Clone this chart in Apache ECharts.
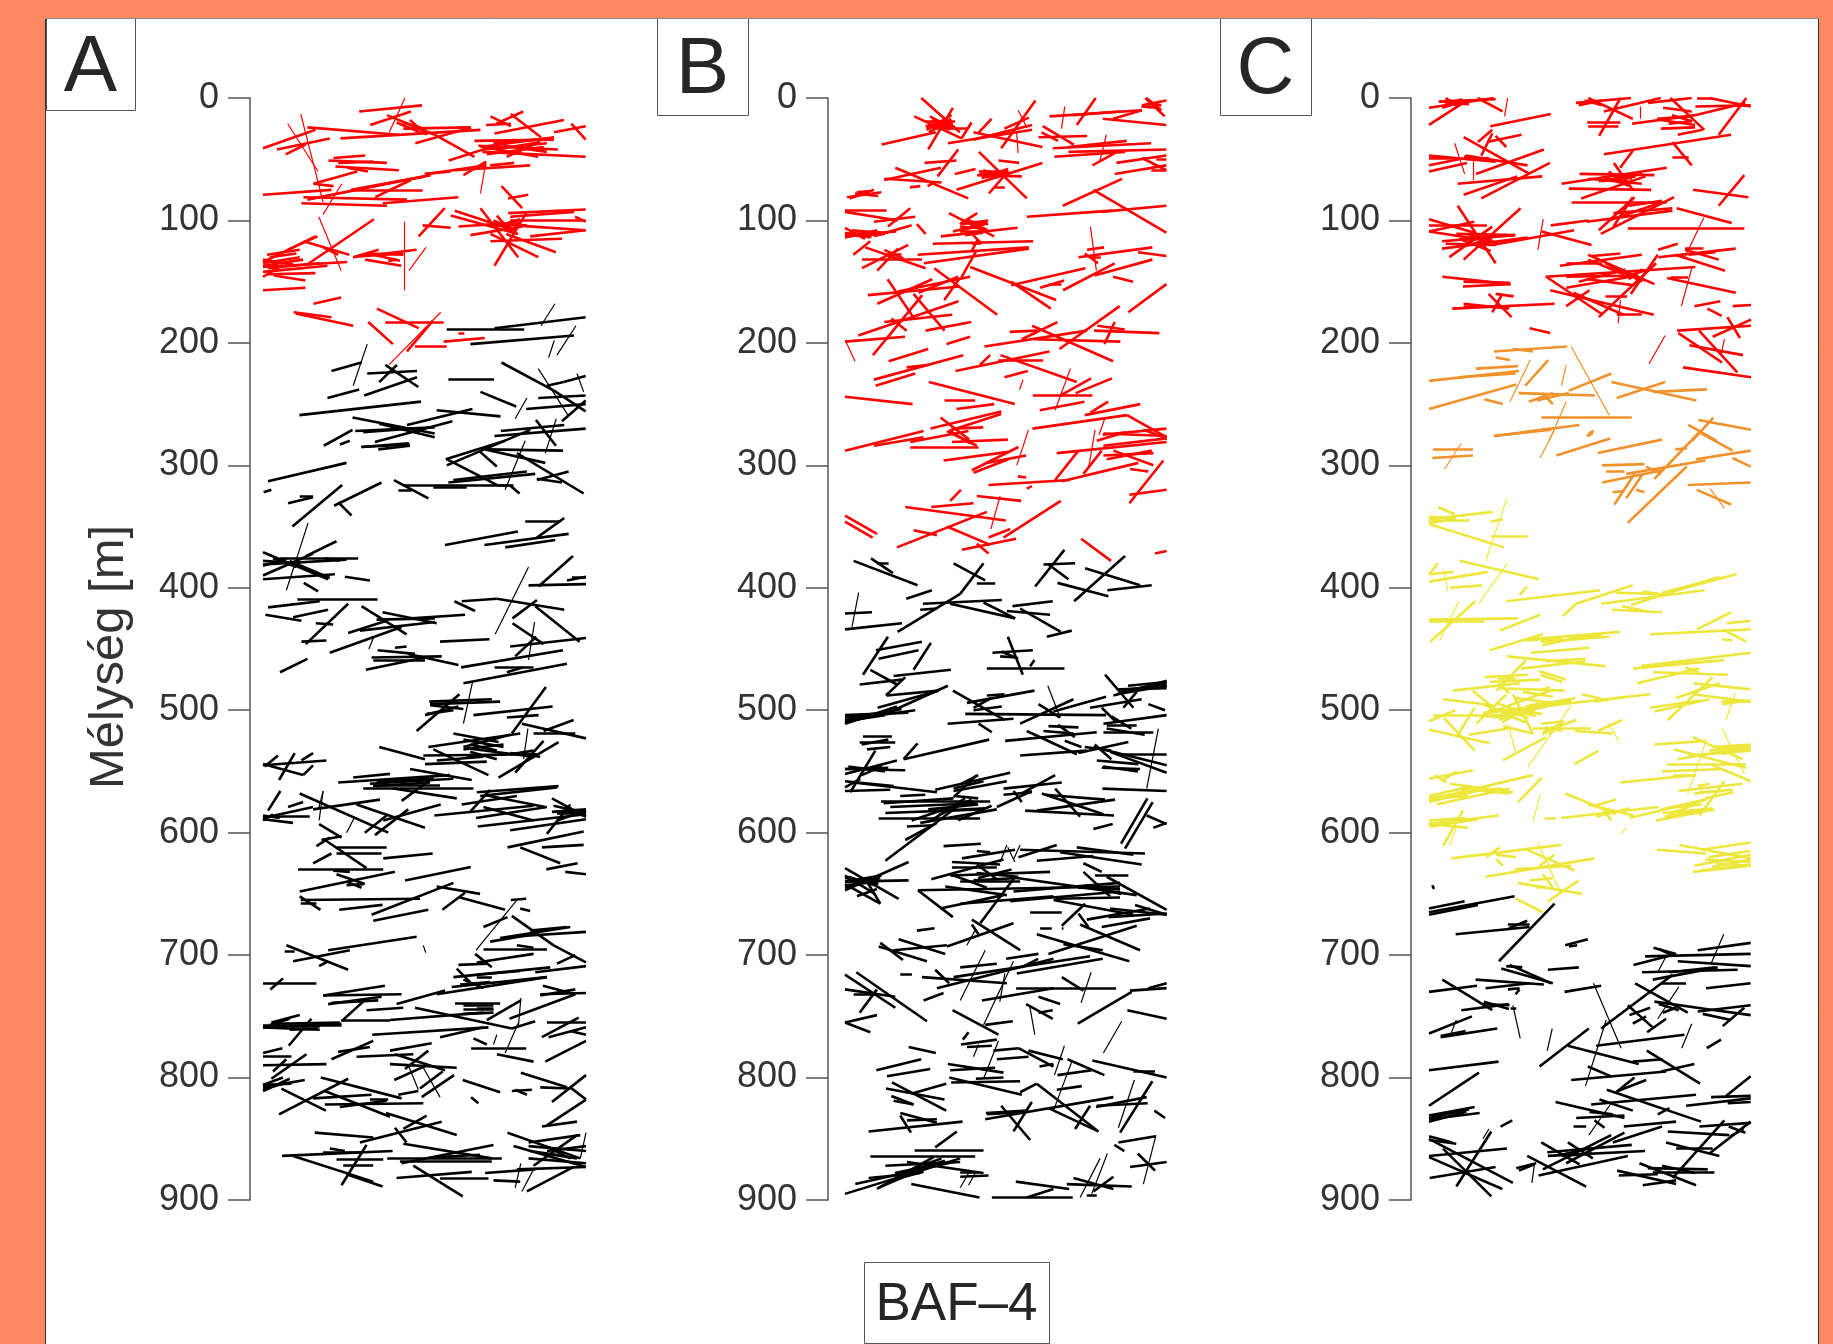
<!DOCTYPE html>
<html>
<head>
<meta charset="utf-8">
<style>
	html, body { margin: 0; padding: 0; background: #ff8a62; }
	#main { width: 1833px; height: 1344px; }
</style>
<script src="https://cdn.jsdelivr.net/npm/echarts@6/dist/echarts.min.js"></script>
</head>
<body>
<div id="main"></div>
<script>
var depthTicks = [0, 100, 200, 300, 400, 500, 600, 700, 800, 900];
var panelNames = ['A', 'B', 'C'];
var depthTitle = 'Mélység [m]';
var wellName = 'BAF–4';

// each row: along-wall position 1, depth 1 [m], along-wall position 2, depth 2 [m]
var aRed = [
	[288,11,476,6],[0,41,157,26],[42,42,200,33],[68,46,127,38],[133,24,406,30],[232,33,651,26],[321,22,443,11],[371,14,514,30],[456,37,623,24],[420,25,620,24],
	[514,30,633,48],[556,51,752,34],[633,35,871,34],[645,39,883,42],[657,44,966,48],[651,40,871,32],[693,29,901,18],[668,22,742,21],[681,15,742,23],[698,21,779,11],
	[742,13,832,32],[871,28,966,23],[923,21,966,34],[574,59,800,55],[600,63,668,52],[680,55,752,53],[657,40,824,48],[660,42,850,37],[670,46,840,40],[400,20,470,28],
	[196,51,371,53],[211,49,306,47],[217,56,407,59],[252,57,314,60],[225,53,330,52],[151,70,282,60],[151,70,211,72],[0,79,205,75],[264,75,484,64],[484,62,562,60],
	[490,62,669,55],[133,83,502,63],[115,86,371,88],[121,81,431,83],[359,86,585,81],[262,75,478,75],[336,81,443,67],[714,72,776,90],[734,82,794,79],
	[466,113,544,90],[478,104,562,106],[562,96,764,111],[574,92,752,108],[585,105,752,102],[621,112,776,105],[734,94,966,91],[740,97,931,93],[740,100,966,100],[752,104,966,108],
	[800,113,966,108],[681,117,895,115],[681,111,824,130],[728,111,877,126],[651,90,764,130],[693,137,788,94],[934,97,966,101],[680,105,770,102],[690,100,760,108],[700,96,745,110],
	[12,128,110,124],[0,134,157,113],[0,138,252,134],[0,142,193,137],[14,144,157,143],[32,145,127,149],[0,157,127,155],[0,135,110,130],[127,137,332,99],[121,117,258,128],
	[270,130,460,124],[270,130,346,124],[306,132,414,137],[74,124,163,113],[20,130,100,127],[0,146,60,136],[180,122,225,128],[310,127,420,128],
	[151,168,234,163],[92,175,205,179],[98,176,270,186],[341,172,466,188],[366,183,541,183],[315,183,389,201],[431,207,508,182],[455,203,550,203],[541,199,664,196],[585,192,603,192],
	[700,42,830,36],[720,39,850,44],[690,37,860,33],[730,48,810,38],[420,20,480,25],[440,18,490,30],[375,133,400,132],[330,128,410,133],[0,137,120,132],[0,132,90,136],[15,139,170,135],[680,103,790,104],[710,104,770,99],[300,129,420,127]
];
var aRedThin = [
	[378,28,425,0],[113,13,180,85],[74,21,165,60],[180,95,236,70],[651,78,667,53],[167,97,234,141],[437,141,488,122],[422,101,422,157],[377,218,532,175]
];
var aBlack = [
	[693,188,966,179],[550,189,782,189],[621,201,931,194],[205,223,295,216],[312,225,461,223],[348,232,401,218],[366,218,465,236],[193,245,288,238],[303,243,461,228],[555,230,692,230],
	[109,259,473,248],[651,240,758,252],[714,216,871,239],[824,245,966,243],[788,254,966,250],[895,264,966,247],[871,239,966,256],[850,235,900,232],[900,232,966,227],
	[268,261,514,274],[182,284,268,271],[276,272,514,269],[335,281,567,264],[520,255,711,260],[431,267,627,254],[294,285,437,282],[348,266,514,277],[550,300,800,271],[712,272,902,267],[693,276,966,270],[817,263,877,284],
	[230,283,260,280],[295,285,440,283],[345,287,440,284],[547,295,725,280],[550,295,700,316],[665,287,898,288],[665,287,845,298],[760,290,960,323],[650,289,700,301],
	[570,312,790,305],[555,314,815,307],[820,312,915,305],[820,311,895,314],[392,312,495,327],[420,316,735,316],[405,320,445,320],[510,318,610,318],[738,316,768,323],
	[15,313,250,298],[2,322,25,320],[75,331,150,326],[110,325,150,325],[88,350,237,316],[213,333,355,314],[225,330,265,341],
	[545,365,763,354],[663,365,915,356],[725,367,875,361],[785,346,890,346],[820,359,902,343],
	[0,371,195,393],[0,381,250,377],[0,390,150,372],[50,376,285,376],[0,393,215,389],[130,374,220,362],[0,382,70,376],[80,378,200,392],[245,391,320,394],[122,396,165,403],[185,376,230,378],
	[15,416,170,411],[103,409,343,409],[7,422,115,427],[90,424,195,418],[295,415,430,438],[358,420,520,429],[445,425,605,422],[115,444,190,443],[128,446,255,413],[158,429,210,430],
	[255,437,370,427],[290,435,515,428],[200,453,415,432],[340,426,515,425],[530,444,678,442],[51,469,133,458],
	[343,451,455,454],[325,457,535,456],[330,459,485,459],[308,467,485,457],[435,454,585,463],[395,449,430,448],
	[573,411,635,419],[595,411,700,409],[700,409,902,418],[747,425,820,410],[815,415,948,444],[825,399,928,374],[795,398,967,397],[910,394,967,391],[925,391,967,391],
	[747,429,840,446],[755,456,818,440],[740,448,967,441],[593,465,898,451],[600,478,910,462],[693,465,810,465],[730,469,780,465],
	[498,493,685,491],[500,495,710,493],[460,517,588,487],[485,504,585,497],[630,504,867,497],[730,506,825,504],[745,519,847,481],
	[348,530,485,540],[495,530,770,519],[570,519,705,526],[600,530,740,520],[480,537,820,536],[485,544,670,542],[510,532,675,553],[610,531,810,538],[705,555,885,526],[755,551,840,525],
	[775,511,967,523],[840,517,930,508],[810,519,935,519],[520,541,660,538],[600,524,720,530],[620,528,700,533],[740,535,830,538],
	[0,545,190,541],[5,546,45,537],[0,544,120,553],[48,557,95,535],[120,553,150,545],[115,541,150,535],
	[225,559,560,553],[270,555,380,552],[300,564,630,564],[320,560,570,556],[440,548,625,557],[415,574,510,555],[390,564,580,572],[330,562,500,559],
	[640,567,885,562],[650,570,880,563],[595,577,760,570],[660,569,845,579],[620,583,680,565],
	[513,586,810,578],[638,588,850,579],[643,595,967,585],[660,579,810,590],[740,598,967,589],[865,572,967,587],[865,583,967,581],[870,578,967,584],[850,601,920,577],[880,590,967,582],
	[0,588,150,579],[0,587,140,587],[0,589,90,592],[15,582,52,566],[75,579,120,575],[150,581,350,573],[110,568,375,600],[280,577,485,596],[335,602,435,581],[360,590,532,577],[168,593,235,604],[305,600,370,586],[175,606,235,603],
	[160,611,200,604],[180,605,310,629],[220,612,370,612],[220,617,355,617],[360,621,508,617],[105,630,360,630],[110,648,395,632],[150,625,205,617],[220,634,305,642],[250,643,300,642],[210,631,260,632],[250,640,295,645],
	[425,639,622,628],[732,612,960,599],[835,612,960,610],[770,612,890,625],[848,630,942,625],[905,632,967,634],
	[113,655,470,654],[110,652,172,663],[113,658,160,658],[228,663,358,659],[325,667,570,641],[330,672,495,663],[520,644,650,650],[590,653,725,663],[537,663,605,649],[660,677,732,669],
	[742,655,788,654],[745,668,870,692],[770,662,800,664],[680,689,810,683],[710,686,920,677],[740,685,967,681],[660,695,850,695],[760,692,810,694],[635,699,685,710],[640,706,810,699],[800,680,910,677],
	[585,708,670,707],[570,718,860,710],[580,711,620,722],[640,718,685,718],[565,726,850,718],[640,716,770,713],[815,714,967,709],[880,707,935,700],[870,692,967,706],
	[195,696,460,685],[90,705,260,696],[70,692,255,712],[65,697,95,697],[168,709,195,705],
	[0,723,160,723],[22,728,60,719],
	[180,733,365,725],[180,733,415,732],[195,740,355,734],[205,739,345,737],[235,754,300,738],[310,745,420,743],[235,753,380,753],[25,755,110,749],[0,759,235,756],[0,759,170,761],[20,757,80,752],[77,774,145,752],
	[380,753,660,747],[400,740,545,729],[520,732,850,718],[455,743,745,760],[327,765,675,759],[530,767,660,759],[575,739,710,739],[600,744,690,744],[600,748,690,747],[670,753,772,737],[745,760,815,754],[738,752,935,732],
	[830,732,967,731],[838,725,935,732],[830,733,935,728],[835,767,945,751],[850,755,967,755],[855,767,967,759],[630,768,670,773],[623,776,788,776],[700,781,810,787],[845,787,967,770],[920,762,967,765],
	[0,780,58,776],[0,783,85,783],[0,790,190,789],[25,801,130,781],[0,811,80,801],[0,808,125,802],[0,806,85,805],[30,795,70,785],
	[205,785,330,770],[225,779,320,775],[280,783,450,781],[380,778,505,772],[380,789,580,792],[395,781,545,794],[393,802,490,790],[425,793,495,778],[470,809,538,795],[475,816,572,798],[405,814,465,811],[598,802,710,812],[623,816,645,821],
	[173,800,415,817],[55,809,188,827],[48,830,255,801],[150,817,325,814],[185,811,380,832],[185,822,480,821],[230,824,370,819],[320,818,375,818],
	[368,829,580,847],[290,853,535,836],[155,845,330,849],[395,841,430,853],[420,842,490,831],
	[57,864,388,860],[90,864,330,885],[180,861,300,861],[200,858,245,860],[220,867,360,867],[235,888,310,855],[240,872,330,872],[250,879,358,889],
	[372,866,715,866],[410,868,685,868],[420,854,685,866],[415,870,690,855],[520,865,650,863],[400,882,625,877],[450,872,598,897],[530,882,675,882],[665,878,815,875],[690,884,770,885],
	[790,893,930,873],[732,845,950,866],[750,856,967,873],[795,853,950,847],[795,866,967,870],[760,875,967,873],[810,872,940,847],[795,856,967,860],[850,860,967,856],[800,860,900,864],
	[772,796,910,808],[745,811,805,810],[830,808,920,809],[865,820,967,798],[920,808,967,818],[850,839,967,818],[835,840,940,836],[755,810,790,814],
	[0,757,235,757],[0,758,170,758],[30,756,230,755],[80,761,165,760],[0,806,60,800],[0,810,70,804],[500,496,600,499],[490,503,570,500],[600,532,720,528],[610,538,730,536],[620,534,700,540],[740,536,810,533],[330,561,530,561],[340,558,500,556],[0,586,50,588],[0,590,30,585],
	[880,584,967,584],[900,582,960,586],[590,724,680,722],[600,720,660,727],[640,743,690,743],[600,741,690,741],[845,862,940,866],[860,858,920,866],[700,316,750,316],[300,273,440,270],[0,378,110,380],[30,376,100,383]
];
var aBlackThin = [
	[832,186,874,168],[855,212,872,198],[880,210,937,186],[270,235,312,201],[824,221,913,259],[940,225,960,240],[755,262,790,245],[845,290,878,262],
	[725,320,785,280],[70,402,135,347],[695,438,795,383],[795,459,813,428],[600,511,628,476],[780,540,793,515],[317,450,332,440],[167,580,180,566],[168,590,180,566],[250,600,275,587],[480,692,487,698],
	[765,757,772,735],[638,696,760,655],[690,773,700,765],[725,780,765,755],[480,792,530,816],[435,790,465,810],[755,890,772,870],[775,893,810,875],[950,866,967,845]
];

var bRed = [
	[110,38,273,28],[229,0,345,28],[250,42,324,8],[208,15,350,33],[242,23,324,21],[242,19,331,19],[252,28,319,17],[264,25,367,25],[245,26,320,14],[255,15,325,25],[309,37,562,26],[386,34,562,22],[386,28,593,40],[469,41,572,2],[479,25,552,16],[350,33,380,20],[402,28,440,17],
	[614,15,892,10],[686,14,825,11],[696,22,753,0],[774,17,965,22],[805,17,892,10],[892,6,965,2],[902,0,960,15],[890,7,940,8],[905,0,950,10],
	[581,32,727,31],[594,23,687,38],[624,41,919,37],[671,40,846,35],[671,44,965,42],[629,48,841,44],[743,55,810,45],[815,53,965,47],[810,62,965,55],[892,49,965,59],[920,59,965,59],[935,50,965,50],
	[239,53,335,51],[278,64,340,42],[330,62,392,58],[118,67,288,57],[151,57,370,82],[118,66,290,69],[195,73,226,72],[248,72,262,70],
	[402,44,546,82],[397,63,531,64],[402,60,490,60],[410,65,495,62],[335,75,593,53],[461,51,523,53],[432,78,490,60],[450,73,480,73],
	[654,88,832,66],[746,75,965,110],[546,97,800,92],[769,93,965,88],
	[6,81,109,77],[35,77,75,76],[14,82,87,75],[30,78,100,80],
	[0,92,125,92],[0,93,159,100],[87,101,211,97],[87,113,200,104],[0,112,154,109],[0,114,97,108],[0,110,76,114],[0,106,60,115],[25,128,76,117],[129,105,196,90],[216,103,242,111],[20,108,110,110],
	[61,122,242,139],[51,132,231,132],[51,139,190,120],[97,141,159,123],[118,124,175,131],[120,128,170,128],
	[312,94,448,113],[345,103,397,94],[324,109,427,102],[288,113,518,106],[365,99,432,109],[345,109,432,109],[350,103,430,100],[360,100,430,103],
	[264,119,565,117],[218,128,552,122],[237,135,552,123],[380,119,410,119],[349,147,396,124],[376,138,634,165],[380,125,400,115],
	[701,130,923,122],[727,124,778,122],[737,130,768,130],[880,126,965,129],[749,145,923,132],[655,157,810,135],[805,146,865,150],[720,127,760,135],
	[499,153,722,139],[499,150,618,172],[586,155,658,149],[612,152,650,152],[268,139,457,177],[69,161,345,154],[97,168,262,148],[159,158,376,146],[128,148,210,181],[206,160,299,190],[221,159,340,146],[298,165,345,147],
	[40,194,341,166],[84,210,232,161],[118,183,322,177],[139,180,185,190],[242,190,379,183],[0,199,180,195],[305,201,376,195],
	[851,175,965,152],[495,191,578,190],[531,197,638,183],[562,186,805,215],[419,203,727,190],[644,205,825,170],[568,197,827,199],[748,190,944,192],[779,201,810,183],[758,186,840,189],
	[131,215,250,205],[87,230,355,210],[92,235,211,225],[185,220,247,218],[332,223,614,207],[467,210,696,232],[460,214,595,214],[405,218,436,210],[479,228,549,223],
	[252,232,510,250],[299,247,391,247],[335,254,448,250],[0,244,203,250],[564,243,743,243],[585,255,719,248],[646,243,739,229],[693,241,802,229],
	[720,259,887,250],[563,270,847,259],[847,259,965,277],[774,275,965,270],[737,257,790,248],[257,270,469,256],[87,284,236,277],[287,261,373,279],[312,272,469,258],[320,270,415,269],
	[0,288,236,272],[196,281,371,272],[196,285,401,285],[321,281,489,279],[306,272,396,284],[316,272,376,282],[296,296,491,289],[381,304,521,285],[386,306,491,295],[426,298,544,292],
	[636,290,966,281],[776,284,966,278],[756,280,841,273],[776,274,966,276],[631,312,701,288],[716,307,771,288],[431,316,676,312],[651,313,881,298],[776,292,926,290],[786,295,921,288],[806,288,926,300],[856,303,911,305],[854,324,966,320],[854,331,956,296],[546,319,561,317],[519,309,544,310],[896,271,966,278],
	[316,329,348,320],[259,334,386,331],[396,325,529,329],[181,334,483,345],[156,367,426,338],[206,353,276,357],[306,350,436,365],[351,369,514,360],[396,364,431,372],[431,359,496,352],[476,359,648,329],
	[0,341,96,356],[0,346,83,359],[709,360,799,378],[931,372,966,370],
	[245,24,320,22],[250,21,320,23],[255,27,310,20],[260,18,315,26],[265,22,320,20],[405,62,495,61],[415,59,480,64],[420,64,490,58],[0,111,130,110],[0,113,120,111],[0,112,80,113],[345,105,425,107],[350,108,420,103],[360,112,415,110],[385,112,410,119],[590,28,640,35],[905,5,950,6],[910,8,945,3]
];
var bRedThin = [
	[515,27,520,45],[546,24,520,10],[650,25,660,7],[765,52,785,30],[737,105,755,141],[631,255,677,221],[3,199,30,215],[524,238,535,230],[763,275,780,262],[516,300,551,271],[731,303,751,271],[438,352,466,325]
];
var bBlack = [
	[26,378,218,398],[78,376,144,388],[96,380,131,380],[326,380,421,394],[396,396,451,396],[184,409,261,402],[234,413,471,410],[316,413,511,425],[158,436,346,405],[226,418,276,417],[346,405,416,380],
	[416,412,511,425],[503,415,624,411],[486,419,616,422],[526,417,648,436],[606,440,681,435],[571,399,659,369],[596,381,691,380],[611,381,671,393],[638,396,791,407],[721,384,886,398],[788,402,921,398],[688,411,841,374],
	[0,421,81,420],[0,434,171,429],[93,451,231,444],[101,458,221,451],[54,471,129,440],[206,467,258,445],[76,467,156,479],[146,472,318,467],[44,479,171,475],[123,488,181,473],[126,488,281,484],[98,498,281,484],
	[146,500,309,480],[0,508,211,500],[0,511,156,497],[0,506,136,501],[0,509,120,504],
	[489,440,534,471],[443,453,564,451],[466,456,516,457],[470,452,520,458],[426,466,659,466],[556,464,569,459],
	[324,484,480,508],[366,494,569,484],[308,511,506,507],[361,503,784,504],[401,511,441,518],[426,488,479,487],[386,500,471,497],[386,498,440,490],
	[526,511,686,491],[626,501,784,489],[736,498,891,491],[581,495,646,506],[806,488,966,476],[816,487,966,480],[846,483,966,480],[781,471,866,498],[836,498,876,485],[911,495,961,500],[826,485,966,478],
	[776,511,966,504],[776,518,926,518],[771,498,816,510],[786,512,876,512],[786,515,900,520],[800,505,860,515],
	[481,525,756,518],[546,517,696,536],[526,537,726,533],[611,513,701,514],[596,517,686,519],[640,512,690,522],[660,525,710,530],[701,535,851,526],[746,530,966,545],[796,534,966,551],[756,541,881,544],[771,547,886,548],[826,536,966,536],[775,546,880,550],[773,564,966,566],[750,528,800,540],[720,530,800,533],
	[44,526,151,526],[54,521,141,521],[66,532,136,530],[50,528,130,524],[176,540,433,524],[176,540,218,527],
	[0,548,181,549],[0,552,156,541],[16,567,91,533],[0,558,146,562],[0,563,46,556],[26,559,276,567],[0,566,136,565],[271,565,496,551],[326,566,486,558],[326,564,416,558],[50,553,110,546],[350,560,400,553],
	[108,574,436,574],[136,579,396,576],[116,576,326,572],[101,588,406,588],[121,584,406,581],[166,570,241,569],[121,623,336,579],[181,606,276,592],[186,595,266,594],[226,592,456,581],[326,571,396,553],[456,579,561,566],[476,569,561,567],[506,566,531,575],[200,590,330,578],[260,590,360,572],
	[476,564,651,559],[591,568,776,585],[576,582,811,573],[601,569,781,573],[541,582,808,586],[631,564,706,587],[531,568,631,553],
	[829,609,908,572],[841,613,924,575],[906,586,966,593],[746,597,804,593],[926,596,966,592],[296,611,408,609],
	[351,621,511,614],[396,615,436,616],[321,624,466,626],[321,628,456,628],[521,620,636,610],[526,614,901,617],[646,616,891,626],[576,623,746,619],[696,612,866,618],
	[716,625,771,632],[259,638,476,622],[316,635,616,632],[346,640,526,640],[316,634,426,645],[386,639,521,637],[406,674,511,636],[396,626,456,638],
	[219,647,826,644],[219,647,324,669],[301,644,486,651],[286,662,476,651],[346,658,626,652],[496,656,826,648],[516,637,876,651],[506,648,826,641],[631,654,826,653],[786,636,966,663],[751,635,851,635],[716,632,796,652],
	[626,655,866,667],[726,671,916,662],[791,669,966,666],[796,662,966,667],[771,677,916,670],[871,659,966,667],[651,676,721,658],[556,665,651,665],[586,678,621,678],[651,678,656,678],[701,666,731,677],[216,680,269,678],
	[0,629,161,654],[0,640,191,639],[0,645,106,637],[0,647,191,624],[0,642,106,658],[0,635,90,650],[36,652,96,646],[66,640,106,658],[0,637,100,642],
	[381,671,526,696],[306,693,506,674],[161,687,301,699],[146,696,306,692],[101,693,246,705],[106,690,174,704],[381,675,401,683],
	[576,683,854,705],[611,699,876,676],[706,675,886,696],[484,703,581,699],[656,691,774,696],
	[231,718,486,723],[276,727,626,703],[326,718,736,701],[516,715,774,703],[346,710,456,707],[530,710,580,703],[271,712,313,723],[166,716,201,716],[236,737,296,731],
	[411,737,626,727],[514,727,814,727],[651,718,716,729],
	[581,734,646,740],[544,740,624,752],[581,747,624,745],[699,756,861,730],[856,729,966,727],[911,727,966,723],[848,745,966,752],
	[0,716,151,743],[34,714,246,754],[0,728,151,734],[26,732,96,732],[44,747,96,728],[0,755,76,763],[0,755,96,749],[323,745,461,765],[421,757,504,754],[354,769,371,763],
	[348,773,456,769],[366,775,441,774],[446,778,521,776],[521,776,626,791],[456,785,551,783],[551,778,654,785],[584,791,626,789],[191,775,273,780],[94,794,229,785],[126,799,256,793],
	[309,789,476,796],[316,794,451,792],[393,801,476,800],[313,800,531,814],[319,804,526,803],[668,785,779,798],[638,798,741,794],[743,786,966,800],[866,795,931,795],
	[526,812,576,805],[576,805,761,844],[636,810,711,807],[141,804,304,827],[123,809,299,818],[139,815,206,822],[201,813,304,805],[146,819,206,822],
	[421,834,806,816],[423,829,546,827],[426,830,546,828],[469,823,556,851],[506,844,561,820],[611,825,761,844],[691,842,736,823],[754,824,906,816],[756,823,909,821],[826,845,923,803],[929,827,961,833],
	[71,844,353,836],[166,829,276,837],[166,831,198,845],[186,835,276,834],[271,857,336,844],[209,859,416,859],[76,864,391,864],
	[0,895,346,866],[31,887,326,869],[96,891,266,865],[121,872,346,869],[136,884,236,877],[186,869,416,878],[199,887,404,898],[71,882,226,878],[346,877,401,877],[346,881,431,880],[100,890,230,875],[150,880,300,868],
	[441,898,684,898],[513,885,673,891],[546,898,626,891],[666,887,861,889],[686,882,806,891],[746,893,806,881],[726,896,756,896],
	[821,853,933,848],[809,855,839,860],[856,873,966,869],[879,862,931,876],
	[0,508,150,500],[0,510,110,503],[0,504,190,502],[60,505,170,499],[820,483,966,482],[850,480,966,477],[250,581,400,577],[280,586,380,573],[300,582,420,580],[340,590,440,578],[330,570,400,572],[0,640,110,635],[10,636,90,643],[0,643,100,640],
	[395,633,520,636],[400,637,500,630],[700,645,826,646],[720,643,830,650],[250,870,290,866],[150,878,290,870],[130,885,270,872],[180,878,250,868],[0,548,130,547],[10,546,120,550]
];
var bBlackThin = [
	[21,432,41,404],[346,890,371,878],[371,888,391,878],[416,801,461,770],[386,783,401,773],[346,737,421,696],[416,757,506,705],[465,738,480,715],[366,692,390,680],[609,480,646,506],[906,564,941,515],
	[466,624,486,610],[506,622,526,610],[626,827,681,787],[629,798,659,774],[821,841,869,802],[706,898,766,866],[741,895,788,862],[896,887,934,847],[776,780,831,754],[709,739,739,714],[555,742,570,765],[489,612,510,624]
];

var cRed = [
	[0,8,195,0],[0,22,114,2],[29,3,200,1],[50,0,88,7],[146,0,221,11],[60,4,120,5],[40,8,100,3],
	[184,23,366,13],[147,36,190,26],[174,36,278,30],[104,32,302,62],[200,31,232,40],
	[0,47,200,52],[0,60,114,53],[8,48,56,48],[109,47,296,55],[141,62,345,42],[157,47,190,29],[86,70,340,64],[104,79,265,64],[157,82,363,53],[0,55,90,50],[110,50,180,49],
	[441,4,607,0],[467,2,520,6],[478,0,612,17],[525,11,696,0],[475,20,575,20],[478,23,569,23],[511,31,575,0],[658,4,789,0],[610,21,799,14],[725,0,827,26],[799,14,950,4],[805,0,850,0],[800,7,966,6],[870,30,953,0],[696,18,799,22],[696,25,799,24],[685,17,786,15],[703,8,789,11],[747,30,822,26],[842,0,966,7],[450,6,520,2],
	[525,46,907,30],[731,48,780,48],[731,36,789,55],[574,57,612,43],
	[452,62,677,63],[398,70,714,57],[420,74,667,75],[457,82,650,64],[555,53,612,75],[478,66,639,70],[520,64,595,71],[510,68,640,62],[540,60,600,72],
	[793,75,959,81],[870,88,947,63],
	[428,85,714,85],[510,108,617,81],[516,111,736,81],[554,94,731,90],[366,104,479,100],[474,101,731,92],[744,90,909,102],[597,106,947,106],[554,105,612,81],[540,100,690,86],[600,88,700,84],
	[0,99,136,110],[0,104,174,104],[0,109,136,101],[86,88,200,135],[82,111,259,112],[39,117,259,112],[39,123,296,114],[104,132,275,90],[61,130,190,105],[0,109,190,117],[50,119,200,120],[190,120,436,108],[338,109,488,120],[90,115,185,125],
	[688,124,747,119],[689,130,921,123],[739,128,889,141],[769,124,870,132],[769,123,824,123],[780,128,860,126],
	[393,137,639,128],[490,129,575,127],[413,135,520,135],[478,132,585,144],[478,128,677,152],[606,160,687,128],[350,146,800,138],[412,146,627,145],[352,146,522,177],[364,157,675,177],[412,155,627,145],[412,170,482,157],[510,179,682,135],[530,162,595,162],[564,177,639,177],[434,159,584,177],[478,148,617,153],[450,150,590,140],[530,135,640,150],
	[715,147,921,159],[725,146,778,146],
	[40,146,245,152],[102,154,245,152],[104,150,243,151],[200,160,254,162],[179,160,248,179],[70,172,377,168],[104,170,243,170],[104,168,240,172],[190,175,220,160],
	[797,170,875,166],[836,172,879,178],[912,170,967,169],[302,188,364,192],
	[745,190,967,186],[852,195,967,181],[896,179,934,196],[749,192,880,216],[811,190,926,224],[782,202,943,210],[763,220,967,228],
	[40,3,95,2],[45,6,100,1],[50,1,90,5],[520,68,620,64],[530,66,600,68],[535,62,610,66],[100,114,190,116],[110,118,180,112],[120,112,200,118],[125,120,195,113],[585,146,660,140],[590,142,650,149],[600,148,640,140],[0,49,70,49],[105,48,165,50],[730,14,790,19],[720,21,790,19]
];
var cRedThin = [
	[227,15,236,0],[77,37,107,62],[134,47,134,67],[634,17,634,7],[768,130,825,98],[327,124,343,99],[568,184,575,165],[661,217,709,194],[758,170,790,138],[877,210,887,197]
];
var cOrange = [
	[195,207,415,203],[252,205,312,207],[200,212,243,214],[141,221,267,219],[0,231,270,223],[90,228,260,225],[289,235,358,214],
	[0,254,262,234],[166,246,222,250],[270,241,498,243],[300,248,372,241],[324,247,420,241],[420,239,548,225],[340,241,372,250],[548,232,803,247],[564,245,709,232],[672,240,835,238],[337,261,609,261],
	[195,276,452,267],[284,273,366,270],[479,274,495,272],[809,263,967,271],[779,267,864,280],[790,280,854,261],
	[12,287,132,287],[10,294,132,292],[194,276,367,271],[382,292,544,278],[507,290,700,279],[474,276,492,274],
	[520,300,647,299],[532,305,587,305],[592,307,830,296],[520,314,702,304],[557,332,617,307],[592,327,642,307],[552,322,587,321],[622,320,647,322],[597,347,774,301],[677,311,812,273],[652,301,697,307],
	[812,273,912,288],[802,295,966,288],[912,294,966,301],[777,316,966,314],[804,320,907,332],[740,287,775,286]
];
var cOrangeThin = [
	[243,248,304,214],[398,235,412,218],[427,203,541,259],[361,280,412,248],[47,303,97,282],[334,294,377,271],[844,319,887,335]
];
var cYellow = [
	[0,344,192,338],[0,345,122,345],[27,334,77,340],[0,342,82,343],[0,347,80,344],[184,346,222,344],[0,348,225,367],[187,358,297,358],
	[92,378,330,393],[0,389,27,380],[0,395,177,387],[0,389,74,387],[64,400,159,398],[272,406,294,399],
	[0,426,267,425],[0,427,167,427],[4,444,139,411],[212,435,334,422],[232,411,514,402],[402,423,442,413],[442,413,612,398],[517,413,827,402],[562,404,682,405],[640,403,690,405],[550,418,700,420],[580,415,650,419],[607,414,872,391],[687,406,924,389],[700,404,870,392],
	[664,438,966,434],[804,434,907,420],[895,429,966,427],[882,434,952,444],[880,442,912,443],
	[182,451,342,438],[302,442,574,436],[337,444,542,440],[340,447,440,441],[420,441,520,439],[307,453,482,449],[234,456,530,464],[277,466,470,460],[350,460,470,458],
	[612,466,887,459],[637,464,966,453],[625,478,812,466],[674,469,897,471],[640,464,860,460],[750,470,800,466],[770,465,810,469],
	[167,473,297,471],[182,477,334,475],[330,468,412,475],[335,471,400,477],[72,484,272,478],[202,484,292,459],[212,482,407,484],[42,491,192,496],[132,484,202,500],[205,474,260,474],[210,478,240,486],[0,509,79,500],[44,506,137,533],[82,522,137,498],[0,516,182,527],[12,504,252,504],[120,520,237,515],[142,511,232,487],
	[162,504,372,483],[162,502,412,494],[212,506,427,492],[302,498,665,487],[497,493,590,489],[460,487,522,491],[252,487,312,519],[332,484,362,481],[282,485,372,489],[160,495,290,510],[220,510,310,495],[180,500,300,500],[200,494,320,505],[260,490,400,495],[290,497,430,491],[340,495,440,490],
	[222,541,352,522],[222,513,312,519],[312,515,487,515],[342,518,442,508],[337,511,407,509],[350,514,400,517],[360,520,395,512],[437,517,552,519],[507,517,580,508],
	[437,544,509,533],
	[664,498,812,492],[677,501,842,491],[717,508,852,473],[742,490,872,478],[795,478,966,483],[792,487,966,493],[877,493,966,493],[880,495,960,492],
	[677,528,832,525],[737,532,952,547],[747,540,966,530],[777,537,966,533],[842,533,966,530],[792,522,942,540],[850,530,966,528],[870,535,960,532],[715,544,952,544],[699,550,882,548],[732,553,802,553],[852,545,966,558],[574,559,797,553],
	[750,566,942,560],[797,568,912,565],[807,562,842,560],[812,567,882,566],[830,572,914,567],
	[0,556,132,549],[17,553,52,559],[42,557,84,550],[62,560,252,567],[0,573,312,553],[0,575,137,566],[22,577,242,564],[92,564,242,568],[267,575,339,555],[172,565,222,564],[0,570,130,562],[0,572,170,565],
	[409,568,562,585],[477,577,615,586],[397,588,689,579],[497,578,562,573],[502,587,602,580],[522,580,547,590],[347,588,382,588],
	[602,588,832,573],[682,590,857,581],[697,581,832,573],[702,584,852,580],[707,587,837,581],[812,586,887,558],
	[0,593,210,586],[0,595,147,589],[0,593,117,596],[0,590,110,588],[42,611,102,582],
	[67,621,397,610],[172,620,212,612],[202,618,262,620],[202,622,222,627],[287,613,437,631],[170,636,497,621],[257,630,427,627],[332,627,377,618],[267,641,460,650],[302,639,372,637],[357,656,450,639],[342,634,372,645],[320,645,350,644],[262,654,342,665],
	[684,614,832,617],[752,610,966,621],[817,614,966,608],[797,627,966,618],[792,632,966,627],[817,631,966,626],[840,620,966,615],
	[180,502,330,498],[190,506,320,500],[200,499,300,506],[210,508,330,494],[230,500,340,503],[170,505,290,503],[350,516,400,512],[340,520,400,510],[860,532,966,529],[880,536,966,530],[900,533,966,533],[0,574,130,567],[10,572,120,570],[0,593,100,590],[10,595,110,589],
	[710,580,820,577],[720,585,810,576],[730,583,830,582],[830,622,966,624],[850,628,966,622],[860,625,966,627],[290,443,400,441]
];
var cYellowThin = [
	[170,378,234,327],[44,385,57,403],[150,413,235,380],[32,443,89,411],[777,568,832,525],[892,508,919,486],[880,515,947,552],[297,546,427,496],[237,511,260,534],[537,510,570,525],[312,591,334,569],[62,610,82,596],[577,601,592,596],[327,608,397,650]
];
var cBlack = [
	[10,643,15,646],[0,665,257,652],[0,662,107,656],[0,667,147,659],[80,683,302,677],[237,675,302,675],[240,678,295,672],[210,705,377,658],[409,692,477,687],[420,693,445,692],[357,712,450,710],[232,709,280,710],[217,711,372,723],[242,708,367,723],
	[140,720,345,724],[170,727,302,723],[237,728,272,727],[0,730,144,725],[40,720,190,745],[97,745,240,740],[162,740,242,741],[165,738,240,744],[407,730,517,725],[245,743,262,743],[260,732,272,728],[0,764,129,750],[35,767,205,760],[35,766,110,762],
	[614,708,742,699],[649,701,966,699],[674,694,742,699],[690,695,730,700],[807,696,966,690],[747,705,966,709],[640,714,927,712],[672,720,867,710],[697,723,772,723],[722,714,860,710],[517,760,732,716],[619,723,777,747],[677,738,832,744],[832,727,966,723],[807,746,966,741],
	[822,748,907,753],[882,758,947,743],[832,744,966,749],[597,741,672,759],[602,749,664,743],[612,756,652,750],[655,763,712,752],[702,747,742,743],[690,740,750,745],
	[502,774,767,765],[834,776,877,769],[332,791,480,760],[417,774,630,789],[612,787,702,785],[654,778,814,805],[697,795,797,789],[427,802,712,795],[477,791,547,799],[0,794,209,787],[0,823,150,796],
	[0,831,137,824],[0,834,152,829],[0,836,112,828],[0,833,120,826],[215,840,250,835],
	[380,820,587,833],[487,822,802,814],[534,810,817,836],[567,811,652,802],[562,812,617,800],[512,818,612,827],[442,833,587,831],[482,828,552,830],[497,835,527,841],[434,840,472,840],[585,840,742,836],[552,853,700,840],[687,830,722,825],[772,823,966,817],[847,816,966,815],[897,821,966,820],[892,815,966,799],
	[812,840,966,837],[717,844,902,847],[842,862,966,836],[732,882,887,835],[712,853,872,864],[742,858,852,858],[900,840,950,845],[905,848,945,842],
	[0,850,252,886],[0,851,82,854],[0,848,70,853],[0,864,234,858],[42,858,187,897],[0,865,220,891],[2,882,200,873],[82,889,187,844],[262,874,322,870],[270,876,315,871],
	[295,864,472,889],[337,853,452,871],[355,861,609,855],[357,864,649,860],[329,880,597,864],[342,875,547,847],[397,863,482,858],[417,853,492,866],[412,870,587,845],[400,864,490,862],
	[565,876,742,887],[570,880,687,879],[632,870,802,888],[657,874,837,875],[642,888,742,884],[672,877,857,877],[700,872,800,878]
];
var cBlackThin = [
	[252,741,274,768],[494,723,577,776],[62,767,82,753],[355,778,370,760],[847,707,885,683],[687,714,712,701],[687,752,750,726],[759,776,789,756],[470,807,532,753],[480,847,547,821],[162,850,180,842],[309,886,317,870]
];

function toLines(_rows) {
	var _out = [];
	for(var i = 0; i < _rows.length; i++) {
		_out.push({
			coords: [[_rows[i][0], _rows[i][1]], [_rows[i][2], _rows[i][3]]]
		});
	}
	return _out;
}

function segSeries(_index, _rows, _color, _width) {
	return {
		type: 'lines',
		coordinateSystem: 'cartesian2d',
		xAxisIndex: _index,
		yAxisIndex: _index,
		polyline: false,
		silent: true,
		animation: false,
		lineStyle: {
			color: _color,
			width: _width,
			opacity: 1,
			curveness: 0
		},
		data: toLines(_rows)
	};
}

function labelBox(_x, _y, _w, _h, _text, _size, _dy) {
	return {
		type: 'group',
		z: 10,
		children: [{
			type: 'rect',
			shape: { x: _x + 0.5, y: _y + 0.5, width: _w, height: _h },
			style: { fill: '#fff', stroke: '#555', lineWidth: 1 }
		}, {
			type: 'text',
			x: _x + _w / 2,
			y: _y + _h / 2 + _dy,
			style: {
				text: _text,
				fill: '#262626',
				font: _size + 'px "Liberation Sans"',
				textAlign: 'center',
				textVerticalAlign: 'middle'
			}
		}]
	};
}

function frameLine(_x1, _y1, _x2, _y2, _color) {
	return {
		type: 'line',
		z: 1,
		shape: { x1: _x1, y1: _y1, x2: _x2, y2: _y2 },
		style: { stroke: _color, lineWidth: 1 }
	};
}

var grids = [], xAxes = [], yAxes = [];
var gridLefts = [263, 845, 1429];
var gridWidths = [323, 322, 322];
var axisOffsets = [13, 17, 18];
for(var p = 0; p < 3; p++) {
	grids.push({
		left: gridLefts[p],
		top: 98,
		width: gridWidths[p],
		height: 1102
	});
	xAxes.push({
		gridIndex: p,
		type: 'value',
		min: 0,
		max: 967,
		show: false
	});
	yAxes.push({
		gridIndex: p,
		type: 'value',
		inverse: true,
		min: depthTicks[0],
		max: depthTicks[depthTicks.length - 1],
		interval: 100,
		offset: axisOffsets[p],
		splitLine: { show: false },
		axisLine: { show: true, onZero: false, lineStyle: { color: '#555', width: 1.5 } },
		axisTick: { show: true, length: 22, lineStyle: { color: '#555', width: 1.5 } },
		axisLabel: {
			color: '#333',
			fontSize: 36,
			fontFamily: 'Liberation Sans',
			margin: 31
		}
	});
}

var option = {
	backgroundColor: '#ff8a62',
	animation: false,
	grid: grids,
	xAxis: xAxes,
	yAxis: yAxes,
	graphic: [{
		type: 'rect',
		z: 0,
		shape: { x: 46, y: 19, width: 1772, height: 1325 },
		style: { fill: '#fff' }
	},
	frameLine(45.5, 18, 45.5, 1344, '#333'),
	frameLine(1818.5, 18, 1818.5, 1344, '#333'),
	frameLine(45, 18.5, 1819, 18.5, '#888'),
	labelBox(46, 18, 89, 92, panelNames[0], 80, 5),
	labelBox(657, 18, 91, 97, panelNames[1], 80, 4),
	labelBox(1220, 18, 91, 97, panelNames[2], 80, 4),
	labelBox(864, 1262, 185, 81, wellName, 53, 3),
	{
		type: 'text',
		z: 10,
		x: 109,
		y: 657,
		rotation: Math.PI / 2,
		style: {
			text: depthTitle,
			fill: '#333',
			font: '49px "Liberation Sans"',
			textAlign: 'center',
			textVerticalAlign: 'middle'
		}
	}],
	series: [
		segSeries(0, aRed, '#ff0000', 2.6),
		segSeries(0, aRedThin, '#ff0000', 1.2),
		segSeries(0, aBlack, '#000', 2.6),
		segSeries(0, aBlackThin, '#000', 1.2),
		segSeries(1, bRed, '#ff0000', 2.6),
		segSeries(1, bRedThin, '#ff0000', 1.2),
		segSeries(1, bBlack, '#000', 2.6),
		segSeries(1, bBlackThin, '#000', 1.2),
		segSeries(2, cRed, '#ff0000', 2.6),
		segSeries(2, cRedThin, '#ff0000', 1.2),
		segSeries(2, cOrange, '#f0922b', 2.6),
		segSeries(2, cOrangeThin, '#f0922b', 1.2),
		segSeries(2, cYellow, '#ede73d', 2.6),
		segSeries(2, cYellowThin, '#ede73d', 1.2),
		segSeries(2, cBlack, '#000', 2.6),
		segSeries(2, cBlackThin, '#000', 1.2)
	]
};

var chart = echarts.init(document.getElementById('main'), null, { renderer: 'canvas' });
chart.setOption(option);
</script>
</body>
</html>
